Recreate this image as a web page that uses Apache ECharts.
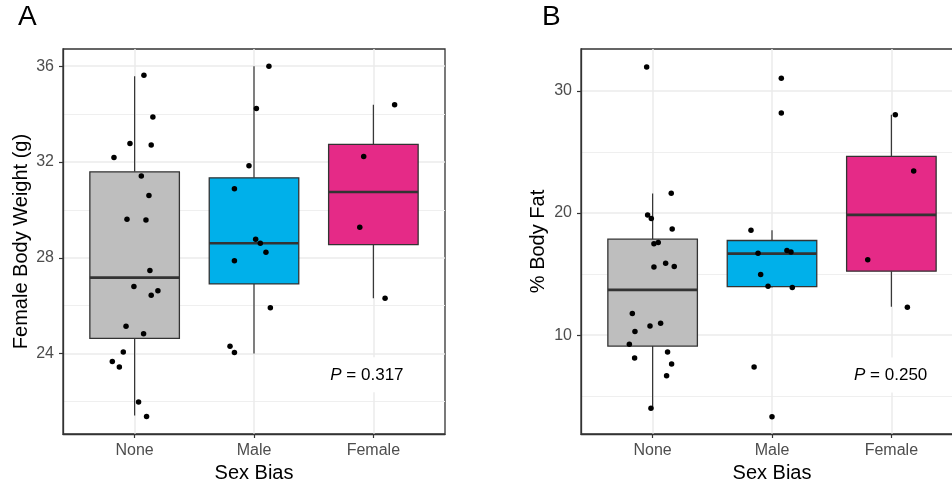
<!DOCTYPE html>
<html><head><meta charset="utf-8">
<script src="https://cdn.jsdelivr.net/npm/echarts@6/dist/echarts.min.js"></script>
<style>html,body{margin:0;padding:0;background:#fff}#c{width:952px;height:481px}</style>
</head><body><div id="c"></div>
<script>
// ---------- data ----------
const categories = ['None', 'Male', 'Female'];
const weightTicks = [24, 28, 32, 36];
const weightMinorTicks = [22, 26, 30, 34];
const fatTicks = [10, 20, 30];
const fatMinorTicks = [5, 15, 25];

// box stats per category: [lower whisker, Q1, median, Q3, upper whisker]
const weightBoxes = [
  [21.41, 24.63, 27.17, 31.59, 35.58],
  [24.00, 26.91, 28.61, 31.34, 36.00],
  [26.31, 28.55, 30.75, 32.74, 34.39]
];
const fatBoxes = [
  [4.02, 9.10, 13.71, 17.86, 21.60],
  [13.90, 13.98, 16.68, 17.75, 18.59],
  [12.32, 15.24, 19.85, 24.65, 28.06]
];

// individual observations and their horizontal jitter (category units)
const weightNone = [35.62, 33.88, 32.77, 32.71, 32.19, 31.42, 30.60, 29.61, 29.58, 27.47, 26.80, 26.62, 26.44, 25.14, 24.83, 24.07, 23.67, 23.44, 21.98, 21.37];
const weightNoneJitter = [0.078, 0.153, -0.039, 0.139, -0.173, 0.056, 0.120, -0.064, 0.095, 0.128, -0.006, 0.195, 0.139, -0.072, 0.075, -0.095, -0.187, -0.128, 0.033, 0.100];
const weightMale = [36.00, 34.23, 31.84, 30.88, 28.77, 28.61, 28.23, 27.88, 25.91, 24.30, 24.04];
const weightMaleJitter = [0.125, 0.020, -0.042, -0.164, 0.014, 0.053, 0.100, -0.164, 0.137, -0.201, -0.164];
const weightFemale = [34.39, 32.23, 29.28, 26.31];
const weightFemaleJitter = [0.178, -0.081, -0.114, 0.098];

const fatNone = [31.96, 21.62, 19.85, 19.55, 18.70, 17.48, 17.59, 15.59, 15.89, 15.62, 11.77, 10.98, 10.74, 10.30, 9.26, 8.12, 8.61, 7.63, 6.67, 4.00];
const fatNoneJitter = [-0.050, 0.156, -0.042, -0.011, 0.164, 0.011, 0.047, 0.011, 0.109, 0.181, -0.170, 0.067, -0.022, -0.148, -0.195, -0.151, 0.125, 0.159, 0.117, -0.014];
const fatMale = [31.04, 28.20, 18.59, 16.71, 16.93, 16.82, 14.97, 14.01, 13.90, 7.38, 3.31];
const fatMaleJitter = [0.078, 0.078, -0.176, -0.117, 0.125, 0.159, -0.095, -0.033, 0.170, -0.150, 0.000];
const fatFemale = [28.06, 23.45, 16.17, 12.29];
const fatFemaleJitter = [0.033, 0.187, -0.198, 0.134];

// annotation: P value and its anchor in data coordinates
const weightP = '0.317';
const weightPAnchor = [2.946, 23.11];
const fatP = '0.250';
const fatPAnchor = [2.994, 6.73];

// ---------- styling ----------
const FONT = '"Liberation Sans", Arial, Helvetica, sans-serif';
const FILLS = ['#BEBEBE', '#00B0EA', '#E52A87'];
const EDGE = '#333333';
const BOX_HALF = 0.375;
const catPos = categories.map((c, i) => i + 1);

function xAxisCfg(gi) {
  return {
    type: 'value', gridIndex: gi, min: 0.4, max: 3.6,
    axisLine: { show: true, lineStyle: { color: EDGE, width: 1.3 } },
    axisTick: { show: true, length: 4, customValues: catPos, lineStyle: { color: EDGE, width: 1.2 } },
    axisLabel: { customValues: catPos, formatter: v => categories[Math.round(v) - 1] || '',
      color: '#4D4D4D', fontSize: 16, margin: 9, fontFamily: FONT },
    splitLine: { show: true, lineStyle: { color: '#EBEBEB', width: 1.5 } },
    name: 'Sex Bias', nameLocation: 'middle', nameGap: 29,
    nameTextStyle: { fontSize: 20, color: '#000', fontFamily: FONT }
  };
}
function yMajor(gi, min, max, ticks, name, gap) {
  return {
    type: 'value', gridIndex: gi, min, max, position: 'left',
    axisLine: { show: true, lineStyle: { color: EDGE, width: 1.3 } },
    axisTick: { show: true, length: 4, customValues: ticks, lineStyle: { color: EDGE, width: 1.2 } },
    axisLabel: { customValues: ticks, color: '#4D4D4D', fontSize: 16, margin: 9, fontFamily: FONT },
    splitLine: { show: true, lineStyle: { color: '#EBEBEB', width: 1.5 } },
    name, nameLocation: 'middle', nameGap: gap, nameRotate: 90,
    nameTextStyle: { fontSize: 20, color: '#000', fontFamily: FONT }
  };
}
function yMinor(gi, min, max, ticks) {
  return {
    type: 'value', gridIndex: gi, min, max, position: 'right',
    axisLine: { show: false },
    axisTick: { show: false, customValues: ticks },
    axisLabel: { show: false, customValues: ticks },
    splitLine: { show: true, lineStyle: { color: '#EFEFEF', width: 1 } }
  };
}

function boxSeries(boxes, xi, yi) {
  return {
    type: 'custom', xAxisIndex: xi, yAxisIndex: yi, silent: true, z: 3,
    encode: { x: 0, y: [1, 2, 3, 4, 5] },
    data: boxes.map((b, i) => [catPos[i]].concat(b)),
    renderItem: function (params, api) {
      const x = api.value(0), lo = api.value(1), q1 = api.value(2), med = api.value(3), q3 = api.value(4), hi = api.value(5);
      const tl = api.coord([x - BOX_HALF, q3]), br = api.coord([x + BOX_HALF, q1]);
      const top = api.coord([x, hi]), bot = api.coord([x, lo]);
      const cq3 = api.coord([x, q3]), cq1 = api.coord([x, q1]);
      const ml = api.coord([x - BOX_HALF, med]), mr = api.coord([x + BOX_HALF, med]);
      const wStyle = { stroke: EDGE, lineWidth: 1.2 };
      return {
        type: 'group', children: [
          { type: 'line', shape: { x1: top[0], y1: top[1], x2: cq3[0], y2: cq3[1] }, style: wStyle },
          { type: 'line', shape: { x1: cq1[0], y1: cq1[1], x2: bot[0], y2: bot[1] }, style: wStyle },
          { type: 'rect', shape: { x: tl[0], y: tl[1], width: br[0] - tl[0], height: br[1] - tl[1] },
            style: { fill: FILLS[params.dataIndex], stroke: EDGE, lineWidth: 1.3 } },
          { type: 'line', shape: { x1: ml[0], y1: ml[1], x2: mr[0], y2: mr[1] }, style: { stroke: EDGE, lineWidth: 2.6 } }
        ]
      };
    }
  };
}
function pointSeries(groups, xi, yi) {
  const data = [];
  groups.forEach((g, i) => g[0].forEach((v, j) => data.push([catPos[i] + g[1][j], v])));
  return {
    type: 'scatter', xAxisIndex: xi, yAxisIndex: yi, silent: true, z: 5,
    symbol: 'circle', symbolSize: 5.5, itemStyle: { color: '#000', opacity: 1 }, data
  };
}
function pSeries(anchor, p, xi, yi) {
  return {
    type: 'custom', xAxisIndex: xi, yAxisIndex: yi, silent: true, z: 4,
    encode: { x: 0, y: 1 },
    data: [anchor],
    renderItem: function (params, api) {
      const c = api.coord([api.value(0), api.value(1)]);
      return {
        type: 'text',
        style: {
          x: c[0], y: c[1], text: '{i|P} = ' + p, align: 'center', verticalAlign: 'middle',
          fontSize: 17, fontFamily: FONT, fill: '#000', backgroundColor: '#fff', padding: [9, 6],
          rich: { i: { fontStyle: 'italic', fontSize: 17, fontFamily: FONT, fill: '#000' } }
        }
      };
    }
  };
}

const chart = echarts.init(document.getElementById('c'), null, { renderer: 'canvas' });
chart.setOption({
  animation: false,
  backgroundColor: '#fff',
  textStyle: { fontFamily: FONT },
  grid: [
    { left: 63, top: 49, right: 507, bottom: 47, show: true, borderColor: EDGE, borderWidth: 1.3, backgroundColor: 'transparent', outerBoundsMode: 'none', containLabel: false },
    { left: 581, top: 49, right: -11, bottom: 47, show: true, borderColor: EDGE, borderWidth: 1.3, backgroundColor: 'transparent', outerBoundsMode: 'none', containLabel: false }
  ],
  xAxis: [xAxisCfg(0), xAxisCfg(1)],
  yAxis: [
    yMajor(0, 20.64, 36.72, weightTicks, 'Female Body Weight (g)', 32),
    yMinor(0, 20.64, 36.72, weightMinorTicks),
    yMajor(1, 1.90, 33.44, fatTicks, '% Body Fat', 33),
    yMinor(1, 1.90, 33.44, fatMinorTicks)
  ],
  graphic: [
    { type: 'text', left: 18, top: 3, style: { text: 'A', fontSize: 28, fontFamily: FONT, fill: '#000' } },
    { type: 'text', left: 542, top: 3, style: { text: 'B', fontSize: 28, fontFamily: FONT, fill: '#000' } }
  ],
  series: [
    boxSeries(weightBoxes, 0, 0),
    pSeries(weightPAnchor, weightP, 0, 0),
    pointSeries([[weightNone, weightNoneJitter], [weightMale, weightMaleJitter], [weightFemale, weightFemaleJitter]], 0, 0),
    boxSeries(fatBoxes, 1, 2),
    pSeries(fatPAnchor, fatP, 1, 2),
    pointSeries([[fatNone, fatNoneJitter], [fatMale, fatMaleJitter], [fatFemale, fatFemaleJitter]], 1, 2)
  ]
});
</script></body></html>
